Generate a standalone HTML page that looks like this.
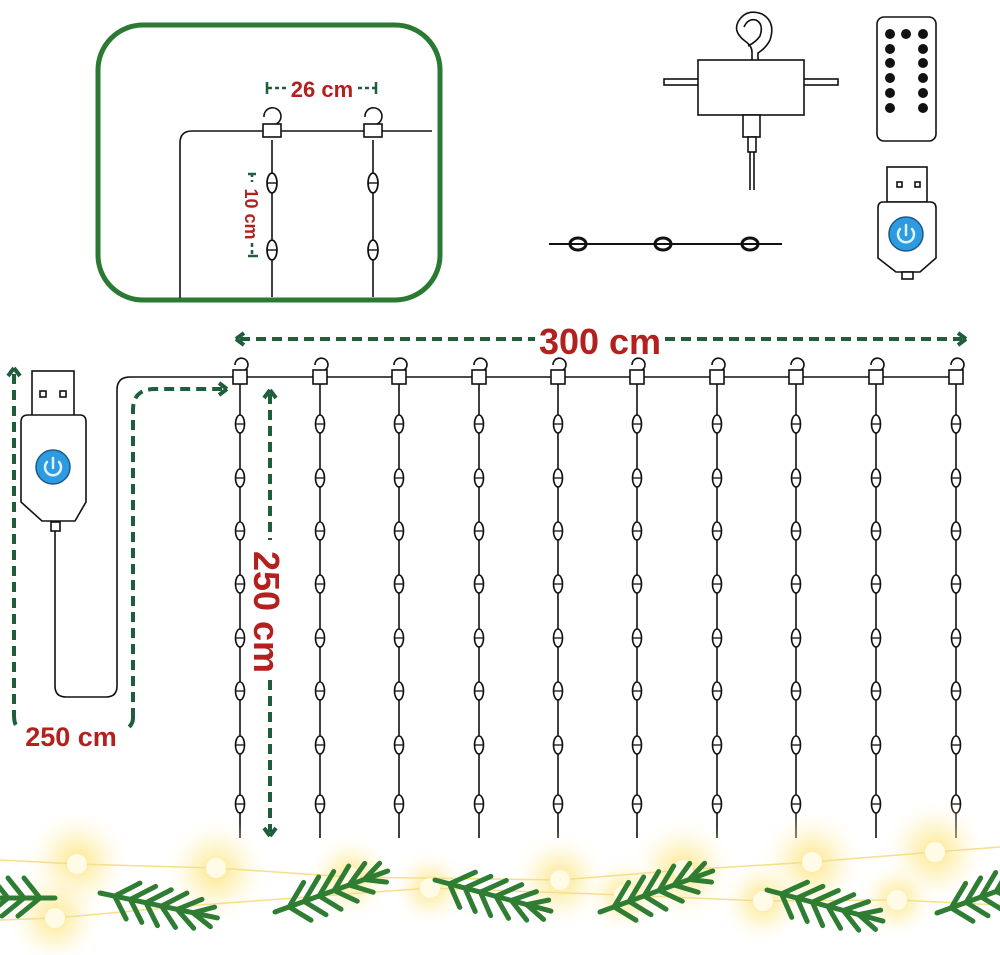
<!DOCTYPE html>
<html><head><meta charset="utf-8"><style>
html,body{margin:0;padding:0;background:#fff;}
svg{display:block}
text{font-family:"Liberation Sans",sans-serif;font-weight:bold;fill:#b3211f}
</style></head><body>
<svg width="1000" height="955" viewBox="0 0 1000 955" xmlns="http://www.w3.org/2000/svg">
<defs>
  <radialGradient id="glow"><stop offset="0" stop-color="#fde27a" stop-opacity="0.9"/><stop offset="0.45" stop-color="#fdeb9a" stop-opacity="0.45"/><stop offset="1" stop-color="#fff" stop-opacity="0"/></radialGradient>
  <g id="bulb"><ellipse cx="0" cy="0" rx="4.5" ry="9" fill="#fff" stroke="#111" stroke-width="1.6"/><line x1="-4.5" y1="0" x2="4.5" y2="0" stroke="#111" stroke-width="1.3"/></g>
  <g id="hook" fill="none" stroke="#111" stroke-width="1.6">
    <path d="M -5 365 A 6.5 6.5 0 1 1 3 371"/>
    <rect x="-7" y="370" width="14" height="14" fill="#fff"/>
  </g>
  <g id="strand">
    <line x1="0" y1="384" x2="0" y2="838" stroke="#111" stroke-width="1.6"/>
    <use href="#hook"/>
    <use href="#bulb" y="424"/><use href="#bulb" y="478"/><use href="#bulb" y="531"/><use href="#bulb" y="584"/>
    <use href="#bulb" y="638"/><use href="#bulb" y="691"/><use href="#bulb" y="745"/><use href="#bulb" y="804"/>
  </g>
  <g id="branch" stroke="#2e7d32" stroke-width="5" stroke-linecap="round" fill="none">
    <line x1="0" y1="0" x2="120" y2="0"/>
    <path d="M15 0 l22 -18 M31 0 l22 -18 M47 0 l22 -18 M63 0 l22 -18 M79 0 l22 -15 M95 0 l20 -10 M15 0 l16 20 M31 0 l16 20 M47 0 l16 20 M63 0 l18 18 M79 0 l20 15 M95 0 l20 10"/>
  </g>
  <marker id="ah" markerWidth="8" markerHeight="8" refX="4" refY="4" orient="auto" markerUnits="userSpaceOnUse"><path d="M0 0 L6 4 L0 8" fill="none" stroke="#1e5e3a" stroke-width="2.5"/></marker>
</defs>

<!-- inset -->
<rect x="98" y="25" width="342" height="275" rx="45" fill="#fff" stroke="#2a7a34" stroke-width="5"/>
<path d="M180 298 V143 Q180 131 192 131 H432" fill="none" stroke="#111" stroke-width="1.6"/>
<g fill="none" stroke="#111" stroke-width="1.6">
  <line x1="272" y1="140" x2="272" y2="297"/><line x1="373" y1="140" x2="373" y2="297"/>
  <path d="M264 117 A 8.5 8.5 0 1 1 276 124"/><rect x="263" y="124" width="18" height="13" fill="#fff"/>
  <path d="M365 117 A 8.5 8.5 0 1 1 377 124"/><rect x="364" y="124" width="18" height="13" fill="#fff"/>
</g>
<g transform="translate(272,183) scale(1.1)"><use href="#bulb"/></g><g transform="translate(373,183) scale(1.1)"><use href="#bulb"/></g>
<g transform="translate(272,250) scale(1.1)"><use href="#bulb"/></g><g transform="translate(373,250) scale(1.1)"><use href="#bulb"/></g>
<g stroke="#1e5e3a" stroke-width="2.5" stroke-dasharray="4 3">
  <line x1="268" y1="88" x2="286" y2="88"/><line x1="358" y1="88" x2="376" y2="88"/>
  <line x1="252" y1="173" x2="252" y2="182"/><line x1="252" y1="243" x2="252" y2="256"/>
</g>
<g stroke="#1e5e3a" stroke-width="2.5"><line x1="267" y1="82" x2="267" y2="94"/><line x1="376" y1="82" x2="376" y2="94"/>
<line x1="248" y1="174" x2="256" y2="174"/><line x1="248" y1="256" x2="258" y2="256"/></g>
<text x="322" y="97" font-size="22" text-anchor="middle">26 cm</text>
<text transform="translate(251,214) rotate(90)" font-size="18" text-anchor="middle" y="6">10 cm</text>

<!-- top right -->
<g fill="none" stroke-linecap="butt">
  <path d="M752 62 V52 Q752 46 745 41 Q733 32 738 22 Q746 8 762 14 Q776 22 770 40 Q766 48 758 53 V62" stroke="#111" stroke-width="1.6"/>
  <path d="M744 27 Q748 18 756 20 Q764 24 760 36 Q756 42 748 46" stroke="#111" stroke-width="1.6"/>
</g>
<g fill="#fff" stroke="#111" stroke-width="1.6">
  <rect x="664" y="79" width="174" height="6"/>
  <rect x="698" y="60" width="106" height="55"/>
  <rect x="743" y="115" width="17" height="22"/>
  <rect x="748" y="137" width="8" height="15"/>
  <line x1="750" y1="152" x2="750" y2="190"/><line x1="754" y1="152" x2="754" y2="190"/>
  <line x1="549" y1="244" x2="782" y2="244" stroke-width="2"/>
  <rect x="877" y="17" width="59" height="124" rx="7"/>
</g>
<g fill="#fff" stroke="#111" stroke-width="3">
  <ellipse cx="578" cy="244" rx="8" ry="6"/><ellipse cx="663" cy="244" rx="8" ry="6"/><ellipse cx="750" cy="244" rx="8" ry="6"/>
</g>
<g stroke="#111" stroke-width="2"><line x1="570" y1="244" x2="586" y2="244"/><line x1="655" y1="244" x2="671" y2="244"/><line x1="742" y1="244" x2="758" y2="244"/></g>
<g fill="#111">
  <circle cx="890" cy="34" r="5"/><circle cx="906" cy="34" r="5"/><circle cx="923" cy="34" r="5"/>
  <circle cx="890" cy="49" r="5"/><circle cx="923" cy="49" r="5"/><circle cx="890" cy="63" r="5"/><circle cx="923" cy="63" r="5"/>
  <circle cx="890" cy="78" r="5"/><circle cx="923" cy="78" r="5"/><circle cx="890" cy="93" r="5"/><circle cx="923" cy="93" r="5"/>
  <circle cx="890" cy="108" r="5"/><circle cx="923" cy="108" r="5"/>
</g>
<!-- small usb -->
<g fill="#fff" stroke="#111" stroke-width="1.6">
  <rect x="887" y="167" width="40" height="35"/>
  <rect x="897" y="182" width="5" height="5"/><rect x="915" y="182" width="5" height="5"/>
  <path d="M883 202 H930 Q936 202 936 208 V258 L920 272 H896 L878 258 V208 Q878 202 883 202 Z"/>
  <rect x="902" y="272" width="11" height="7"/>
</g>
<circle cx="906" cy="234" r="17" fill="#2e9be0" stroke="#1a5a8a" stroke-width="1.5"/>
<path d="M900 229 A 8 8 0 1 0 912 229 M906 225 V235" fill="none" stroke="#dff3ff" stroke-width="2.5" stroke-linecap="round"/>

<!-- big usb -->
<g fill="#fff" stroke="#111" stroke-width="1.6">
  <rect x="32" y="371" width="42" height="45"/>
  <rect x="40" y="391" width="6" height="6"/><rect x="60" y="391" width="6" height="6"/>
  <path d="M28 415 H80 Q86 415 86 422 V502 L75 521 H42 L21 502 V422 Q21 415 28 415 Z"/>
  <rect x="51" y="522" width="9" height="9"/>
  <path d="M55 531 V686 Q55 697 66 697 H106 Q117 697 117 686 V390 Q117 377 130 377 H956" fill="none"/>
</g>
<circle cx="53" cy="467" r="17" fill="#2e9be0" stroke="#1a5a8a" stroke-width="1.5"/>
<path d="M47 462 A 8 8 0 1 0 59 462 M53 458 V468" fill="none" stroke="#dff3ff" stroke-width="2.5" stroke-linecap="round"/>

<!-- strands -->
<use href="#strand" x="240"/><use href="#strand" x="320"/><use href="#strand" x="399"/><use href="#strand" x="479"/><use href="#strand" x="558"/>
<use href="#strand" x="637"/><use href="#strand" x="717"/><use href="#strand" x="796"/><use href="#strand" x="876"/><use href="#strand" x="956"/>

<!-- dims -->
<g fill="none" stroke="#1e5e3a" stroke-width="4" stroke-dasharray="10 6">
  <line x1="240" y1="339" x2="535" y2="339"/>
  <line x1="665" y1="339" x2="962" y2="339"/>
  <line x1="270" y1="394" x2="270" y2="540"/>
  <line x1="270" y1="680" x2="270" y2="832"/>
  <path d="M14 374 V715"/>
  <path d="M133 718 V410 Q133 389 155 389 H222"/>
  <path d="M14 715 Q14 725 18 727"/><path d="M133 718 Q133 724 128 728"/>
</g>
<path d="M236 339 l8 -6 M236 339 l8 6 M966 339 l-8 -6 M966 339 l-8 6 M270 390 l-6 8 M270 390 l6 8 M270 836 l-6 -8 M270 836 l6 -8 M14 368 l-6 8 M14 368 l6 8 M227 389 l-8 -6 M227 389 l-8 6" stroke="#1e5e3a" stroke-width="4" fill="none"/>
<text x="600" y="354" font-size="36" text-anchor="middle">300 cm</text>
<text transform="translate(266,612) rotate(90)" font-size="36" text-anchor="middle" y="12">250 cm</text>
<text x="71" y="746" font-size="27" text-anchor="middle">250 cm</text>

<!-- garland -->
<g>
  <circle cx="77" cy="862" r="55" fill="url(#glow)"/><circle cx="216" cy="871" r="55" fill="url(#glow)"/>
  <circle cx="350" cy="877" r="45" fill="url(#glow)"/><circle cx="560" cy="880" r="50" fill="url(#glow)"/>
  <circle cx="683" cy="870" r="55" fill="url(#glow)"/><circle cx="812" cy="862" r="55" fill="url(#glow)"/>
  <circle cx="935" cy="852" r="55" fill="url(#glow)"/><circle cx="55" cy="918" r="50" fill="url(#glow)"/>
  <circle cx="430" cy="888" r="40" fill="url(#glow)"/><circle cx="624" cy="895" r="40" fill="url(#glow)"/>
  <circle cx="763" cy="901" r="45" fill="url(#glow)"/><circle cx="897" cy="900" r="40" fill="url(#glow)"/>
  <path d="M0 860 L77 864 L216 868 L350 877 L560 880 L683 870 L812 862 L935 852 L1000 847" fill="none" stroke="#f6df8a" stroke-width="1.5"/>
  <path d="M0 920 L55 918 L200 905 L430 888 L624 895 L763 901 L897 900 L1000 905" fill="none" stroke="#f6df8a" stroke-width="1.5"/>
  <g fill="#fffbe6">
    <circle cx="77" cy="864" r="10"/><circle cx="216" cy="868" r="10"/><circle cx="350" cy="877" r="10"/><circle cx="560" cy="880" r="10"/>
    <circle cx="683" cy="870" r="10"/><circle cx="812" cy="862" r="10"/><circle cx="935" cy="852" r="10"/><circle cx="55" cy="918" r="10"/>
    <circle cx="430" cy="888" r="10"/><circle cx="624" cy="895" r="10"/><circle cx="763" cy="901" r="10"/><circle cx="897" cy="900" r="10"/>
  </g>
  <use href="#branch" transform="translate(55,898) rotate(180)"/>
  <use href="#branch" transform="translate(100,893) rotate(12)"/>
  <use href="#branch" transform="translate(275,912) rotate(-20)"/>
  <use href="#branch" transform="translate(435,880) rotate(15)"/>
  <use href="#branch" transform="translate(600,912) rotate(-20)"/>
  <use href="#branch" transform="translate(767,890) rotate(15)"/>
  <use href="#branch" transform="translate(937,913) rotate(-20)"/>
</g>
</svg>
</body></html>
